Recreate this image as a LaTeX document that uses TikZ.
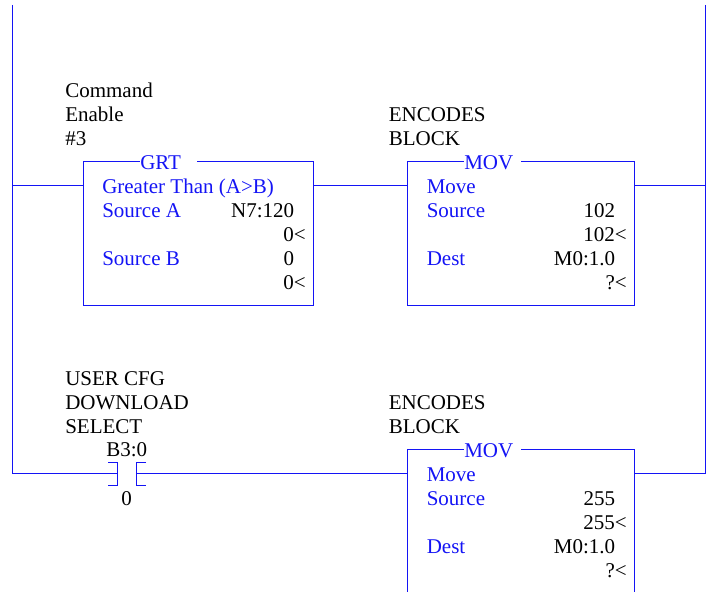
\documentclass[tikz,border=0pt]{standalone}
\usepackage{fontspec}
\setmainfont{Liberation Serif}
\definecolor{rungblue}{RGB}{20,20,245}
\tikzset{
  rung/.style={draw=rungblue,line width=0.85pt},
  blockbox/.style={rung,anchor=north west,minimum width=172.5pt,inner sep=0pt,outer sep=0pt},
  blocktitle/.style={anchor=base west,fill=white,text=rungblue,inner sep=0pt,text height=8pt,text depth=0pt,align=left},
  tag/.style={anchor=base west,inner sep=0pt,font=\fontsize{15.75}{18}\selectfont},
  param/.style={tag,text=rungblue},
  value/.style={anchor=base east,inner sep=0pt,font=\fontsize{15.75}{18}\selectfont},
}
\begin{document}
\begin{tikzpicture}[x=0.75pt,y=-0.75pt]
  \useasboundingbox (0,0) rectangle (711,592);
  \clip (0,0) rectangle (711,592);
  % rails
  \coordinate (railTL) at (12.5,5);
  \coordinate (railBL) at (12.5,473.5);
  \coordinate (railTR) at (705.5,5);
  \coordinate (railBR) at (705.5,473.5);
  \coordinate (rungA) at (12.5,185.5);
  \coordinate (rungAR) at (705.5,185.5);
  \draw[rung] (railTL) -- (railBL);
  \draw[rung] (railTR) -- (railBR);
  % first rung
  \node[blockbox,minimum height=108pt] (grt) at (83.5,161.5) {};
  \node[blockbox,minimum width=170.25pt,minimum height=108pt] (mova) at (407.5,161.5) {};
  \draw[rung] (rungA) -- (rungA -| grt.west);
  \draw[rung] (rungA -| grt.east) -- (rungA -| mova.west);
  \draw[rung] (rungA -| mova.east) -- (rungAR);
  \node[blocktitle,text width=42.5pt,font=\fontsize{15.75}{18}\selectfont] (grttitle) at (140,169) {GRT};
  \node[blocktitle,text width=42.5pt,font=\fontsize{15.75}{18}\selectfont] (movatitle) at (464,169) {MOV};
  \node[tag] (cmd) at (65,98) {Command};
  \node[tag] (enable) at (65,122) {Enable};
  \node[tag] (num) at (65,146) {\#3};
  \node[tag] (enca) at (388.5,122) {ENCODES};
  \node[tag] (blocka) at (388.5,146) {BLOCK};
  \node[param] (gtname) at (102,193) {Greater Than (A>B)};
  \node[param] (srca) at (102,217) {Source A};
  \node[param] (srcb) at (102,265) {Source B};
  \node[value] (srcaval) at (294.5,217) {N7:120};
  \node[value] (srcanow) at (306,241) {0<};
  \node[value] (srcbval) at (294.5,265) {0};
  \node[value] (srcbnow) at (306,289) {0<};
  \node[param] (movname) at (426.5,193) {Move};
  \node[param] (movsrc) at (426.5,217) {Source};
  \node[param] (movdst) at (426.5,265) {Dest};
  \node[value] (movsrcval) at (615.5,217) {102};
  \node[value] (movsrcnow) at (627,241) {102<};
  \node[value] (movdstval) at (615.5,265) {M0:1.0};
  \node[value] (movdstnow) at (627,289) {?<};
  % second rung
  \node[blockbox,minimum width=170.25pt,minimum height=150pt] (movb) at (407.5,449.5) {};
  \node[blocktitle,text width=42.5pt,font=\fontsize{15.75}{18}\selectfont] (movbtitle) at (464,457) {MOV};
  \coordinate (contactL) at (117.5,473.5);
  \coordinate (contactR) at (136.5,473.5);
  \draw[rung] (railBL) -- (contactL);
  \draw[rung] (108,462.5) -- (117.5,462.5) -- (117.5,485.5) -- (108,485.5);
  \draw[rung] (146,462.5) -- (136.5,462.5) -- (136.5,485.5) -- (146,485.5);
  \draw[rung] (contactR) -- (contactR -| movb.west);
  \draw[rung] (contactR -| movb.east) -- (railBR);
  \node[tag] (usercfg) at (65,385) {USER CFG};
  \node[tag] (download) at (65,409) {DOWNLOAD};
  \node[tag] (select) at (65,433) {SELECT};
  \node[tag] (bit) at (106,456) {B3:0};
  \node[tag] (bitnow) at (121,505) {0};
  \node[tag] (encb) at (388.5,409) {ENCODES};
  \node[tag] (blockb) at (388.5,433) {BLOCK};
  \node[param] (movbname) at (426.5,481) {Move};
  \node[param] (movbsrc) at (426.5,505) {Source};
  \node[param] (movbdst) at (426.5,553) {Dest};
  \node[value] (movbsrcval) at (615.5,505) {255};
  \node[value] (movbsrcnow) at (627,529) {255<};
  \node[value] (movbdstval) at (615.5,553) {M0:1.0};
  \node[value] (movbdstnow) at (627,577) {?<};
\end{tikzpicture}
\end{document}
